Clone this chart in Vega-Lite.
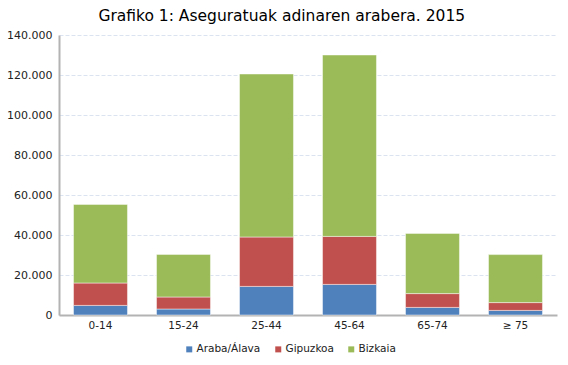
{
  "$schema": "https://vega.github.io/schema/vega-lite/v6.json",
  "width": 498,
  "height": 280,
  "autosize": {"type": "none"},
  "padding": {"left": 59, "top": 35, "right": 11, "bottom": 50},
  "background": "white",
  "title": {
    "text": "Grafiko 1: Aseguratuak adinaren arabera. 2015",
    "font": "DejaVu Sans",
    "fontSize": 15.5,
    "fontWeight": "normal",
    "color": "#000000",
    "anchor": "middle",
    "frame": "bounds",
    "offset": 5
  },
  "data": {
    "values": [
      {"adina": "0-14", "lurraldea": "Araba/Álava", "o": 1, "balioa": 4800},
      {"adina": "0-14", "lurraldea": "Gipuzkoa", "o": 2, "balioa": 11200},
      {"adina": "0-14", "lurraldea": "Bizkaia", "o": 3, "balioa": 39300},
      {"adina": "15-24", "lurraldea": "Araba/Álava", "o": 1, "balioa": 3000},
      {"adina": "15-24", "lurraldea": "Gipuzkoa", "o": 2, "balioa": 6000},
      {"adina": "15-24", "lurraldea": "Bizkaia", "o": 3, "balioa": 21300},
      {"adina": "25-44", "lurraldea": "Araba/Álava", "o": 1, "balioa": 14300},
      {"adina": "25-44", "lurraldea": "Gipuzkoa", "o": 2, "balioa": 24700},
      {"adina": "25-44", "lurraldea": "Bizkaia", "o": 3, "balioa": 81500},
      {"adina": "45-64", "lurraldea": "Araba/Álava", "o": 1, "balioa": 15300},
      {"adina": "45-64", "lurraldea": "Gipuzkoa", "o": 2, "balioa": 24000},
      {"adina": "45-64", "lurraldea": "Bizkaia", "o": 3, "balioa": 90700},
      {"adina": "65-74", "lurraldea": "Araba/Álava", "o": 1, "balioa": 3800},
      {"adina": "65-74", "lurraldea": "Gipuzkoa", "o": 2, "balioa": 6900},
      {"adina": "65-74", "lurraldea": "Bizkaia", "o": 3, "balioa": 30100},
      {"adina": "≥ 75", "lurraldea": "Araba/Álava", "o": 1, "balioa": 2300},
      {"adina": "≥ 75", "lurraldea": "Gipuzkoa", "o": 2, "balioa": 3900},
      {"adina": "≥ 75", "lurraldea": "Bizkaia", "o": 3, "balioa": 24000}
    ]
  },
  "mark": {"type": "bar", "stroke": "#ffffff", "strokeOpacity": 0.45, "strokeWidth": 1},
  "encoding": {
    "x": {
      "field": "adina",
      "type": "nominal",
      "sort": ["0-14", "15-24", "25-44", "45-64", "65-74", "≥ 75"],
      "scale": {"paddingInner": 0.35, "paddingOuter": 0.175},
      "axis": {
        "title": null,
        "labelAngle": 0,
        "labelFont": "DejaVu Sans",
        "labelFontSize": 10.5,
        "labelColor": "#222222",
        "labelPadding": 5,
        "ticks": false,
        "domainColor": "#b3b3b3",
        "domainWidth": 2
      }
    },
    "y": {
      "field": "balioa",
      "type": "quantitative",
      "aggregate": "sum",
      "stack": "zero",
      "scale": {"domain": [0, 140000], "nice": false},
      "axis": {
        "title": null,
        "values": [0, 20000, 40000, 60000, 80000, 100000, 120000, 140000],
        "labelExpr": "replace(format(datum.value, ','), ',', '.')",
        "labelFont": "DejaVu Sans",
        "labelFontSize": 11,
        "labelColor": "#222222",
        "labelPadding": 7,
        "ticks": false,
        "domainColor": "#b3b3b3",
        "domainWidth": 2,
        "gridColor": "#dbe3f0",
        "gridDash": [4, 2],
        "gridWidth": 1
      }
    },
    "color": {
      "field": "lurraldea",
      "type": "nominal",
      "sort": ["Araba/Álava", "Gipuzkoa", "Bizkaia"],
      "scale": {
        "domain": ["Araba/Álava", "Gipuzkoa", "Bizkaia"],
        "range": ["#4f81bd", "#c0504d", "#9bbb59"]
      },
      "legend": {
        "title": null,
        "orient": "none",
        "direction": "horizontal",
        "legendX": 125,
        "legendY": 309,
        "symbolType": "square",
        "symbolSize": 36,
        "symbolStrokeWidth": 0,
        "labelFont": "DejaVu Sans",
        "labelFontSize": 10.5,
        "labelColor": "#222222",
        "labelOffset": 2,
        "columnPadding": 12
      }
    },
    "order": {"field": "o", "type": "quantitative"}
  },
  "config": {"view": {"stroke": null}}
}
